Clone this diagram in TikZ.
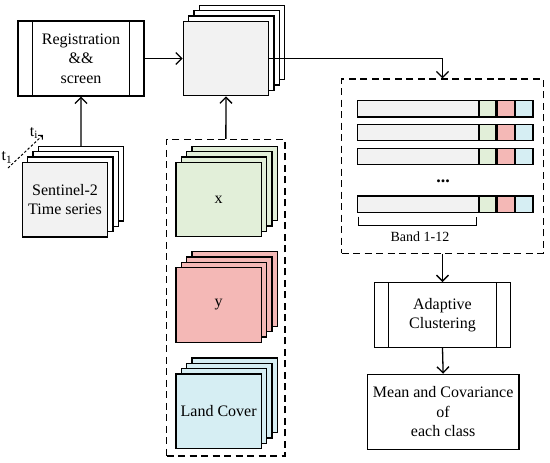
\documentclass[tikz,border=0pt]{standalone}
\usepackage{fontspec}
\setmainfont{Liberation Serif}
\usetikzlibrary{arrows.meta,calc}
\definecolor{boxgray}{HTML}{F2F2F2}
\definecolor{boxgreen}{HTML}{E2EFD9}
\definecolor{boxred}{HTML}{F4B8B6}
\definecolor{boxblue}{HTML}{D6EEF3}
\tikzset{
  base/.style={draw=black, line width=1.3pt, inner sep=0pt, align=center,
    font=\fontsize{16}{19.5}\selectfont},
  sheet/.style={base, minimum width=85.3pt, minimum height=74.5pt},
  dashbox/.style={draw=black, line width=1.3pt, dash pattern=on 7pt off 4.5pt, inner sep=0pt},
  bar/.style={draw=black, line width=1.3pt, inner sep=0pt, minimum height=16.4pt},
  arr/.style={line width=1.3pt, -{Straight Barb[length=6pt,width=12pt,line width=1.3pt]}},
  tarr/.style={line width=1pt, dash pattern=on 2.5pt off 2pt, -{Straight Barb[length=3pt,width=6pt,line width=1pt]}},
  lbl/.style={inner sep=0pt, font=\fontsize{16}{19.5}\selectfont},
}
\begin{document}
\begin{tikzpicture}[x=1pt,y=-1pt]
\useasboundingbox (0,0) rectangle (550,463);
% Registration box
\node[base, minimum width=126pt, minimum height=75pt] (reg) at (81,58.5) {Registration\\\&\&\\screen};
\draw[line width=1.3pt] ($(reg.north west)+(15,0)$) -- ($(reg.south west)+(15,0)$);
\draw[line width=1.3pt] ($(reg.north east)+(-15,0)$) -- ($(reg.south east)+(-15,0)$);
% Sentinel stack
\foreach \k in {3,2,1}{
  \node[sheet, fill=white] (s\k) at ({65+5.33*\k},{199.7-5.33*\k}) {};
}
\node[sheet, fill=boxgray] (s) at (65,199.7) {Sentinel-2\\Time series};
% t arrow
\coordinate (tA) at (8,168);
\coordinate (tB) at (43,135);
\draw[tarr] (tA) -- (tB);
\node[lbl] (tilab) at (34,133) {t\textsubscript{i}};
\node[lbl] (t1lab) at (7,157.5) {t\textsubscript{1}};
% Center stack
\foreach \k in {3,2,1}{
  \node[sheet, fill=white] (c\k) at ({226+5.33*\k},{58.5-5.33*\k}) {};
}
\node[sheet, fill=boxgray] (c) at (226,58.5) {};
% Middle dashed box
\node[dashbox, minimum width=118.3pt, minimum height=316.5pt] (md) at (225.85,297.75) {};
% x stack
\foreach \k in {3,2,1}{
  \node[sheet, fill=boxgreen] (x\k) at ({218.65+5.33*\k},{199.5-5.33*\k}) {};
}
\node[sheet, fill=boxgreen] (x) at (218.65,199.5) {x};
% y stack
\foreach \k in {3,2,1}{
  \node[sheet, fill=boxred] (y\k) at ({218.65+5.33*\k},{305-5.33*\k}) {};
}
\node[sheet, fill=boxred] (y) at (218.65,305) {y};
% Land cover stack
\foreach \k in {3,2,1}{
  \node[sheet, fill=boxblue] (l\k) at ({218.65+5.33*\k},{411.3-5.33*\k}) {};
}
\node[sheet, fill=boxblue] (l) at (218.65,411.3) {Land Cover};
% Right dashed box
\node[dashbox, minimum width=201.6pt, minimum height=174.3pt] (rd) at (442.5,166.15) {};
% Bars
\foreach \i/\yy in {1/108.85,2/132.55,3/156.35,4/204.15}{
  \node[bar, fill=boxgray, minimum width=121pt, anchor=west] (g\i) at (356.7,\yy) {};
  \node[bar, fill=boxgreen, minimum width=16.4pt, anchor=west] (gr\i) at (g\i.east) {};
  \node[bar, fill=boxred, minimum width=17pt, anchor=west] (rr\i) at (gr\i.east) {};
  \node[bar, fill=boxblue, minimum width=17.3pt, anchor=west] (bb\i) at (rr\i.east) {};
}
\node[lbl, font=\fontsize{18}{20}\selectfont\bfseries] (dots) at (443,181) {...};
% bracket
\coordinate (brA) at (358.7,216.7);
\coordinate (brB) at (476.7,216.7);
\draw[line width=1pt] (brA) -- ++(0,8.3) -| (brB);
\node[lbl, font=\fontsize{14}{17}\selectfont] (band) at (420,237) {Band 1-12};
% Adaptive clustering
\node[base, minimum width=136.4pt, minimum height=64.6pt] (ad) at (442.5,315) {Adaptive\\Clustering};
\draw[line width=1.3pt] ($(ad.north west)+(15,0)$) -- ($(ad.south west)+(15,0)$);
\draw[line width=1.3pt] ($(ad.north east)+(-15,0)$) -- ($(ad.south east)+(-15,0)$);
% Mean box
\node[base, minimum width=151.7pt, minimum height=75pt] (mc) at (443.15,411.8) {Mean and Covariance\\of\\each class};
% connectors
\draw[arr] (reg.east) -- (c.west);
\draw[arr] (s3.north) -- (reg.south);
\draw[arr] (md.north) -- (c.south);
\draw[arr] (c.east) -| (rd.north);
\draw[arr] (rd.south) -- (ad.north);
\draw[arr] (ad.south) -- (mc.north);
\end{tikzpicture}
\end{document}
